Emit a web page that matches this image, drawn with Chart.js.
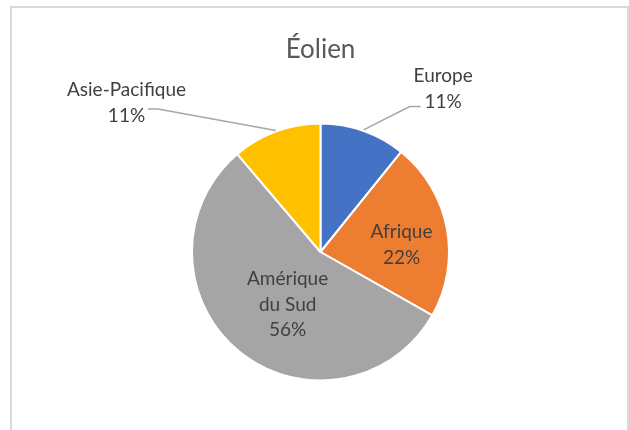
<!DOCTYPE html>
<html lang="fr">
<head>
<meta charset="utf-8">
<title>Éolien</title>
<script src="https://cdn.jsdelivr.net/npm/chart.js@4.4.1/dist/chart.umd.min.js"></script>
<style>
  html, body { margin: 0; padding: 0; background: #fff; }
  #wrap { position: relative; width: 629px; height: 430px; overflow: hidden; }
  #wrap canvas { position: absolute; left: 0; top: 0; }
  #frame {
    position: absolute; left: 10px; top: 6px; width: 619px; height: 440px;
    box-sizing: border-box; border: 2px solid #d9d9d9; pointer-events: none;
  }
</style>
</head>
<body>
<div id="wrap">
  <canvas id="chart-eolien" width="629" height="430"></canvas>
  <div id="frame"></div>
</div>
<script>
// Data (shares per region)
var CATEGORIES  = ['Europe', 'Afrique', 'Amérique du Sud', 'Asie-Pacifique'];
var LABEL_LINES = [['Europe'], ['Afrique'], ['Amérique', 'du Sud'], ['Asie-Pacifique']];
var VALUES      = [10.8, 22.4, 55.6, 11.2];
var TITLE       = 'Éolien';

var COLORS = ['#4472C4', '#ED7D31', '#A5A5A5', '#FFC000'];

// where each data label sits: angle shift (deg) from the slice middle,
// distance as a share of the radius, optional leader line
var LABEL_PLACE = [
  { shift: 17.5,  dist: 1.588, leader: { dx: -22.5, dy: 17.6, elbow: -11 } },
  { shift: 5.9,   dist: 0.633 },
  { shift: -7.7,  dist: 0.484 },
  { shift: -32.3, dist: 1.904, leader: { dx: 21.5, dy: 6.1, elbow: 10 } }
];
var LABEL_FONT = 19;
var LABEL_LINE_H = 25.5;

// ── Data labels + leader lines ─────────
var pieLabels = {
  id: 'pieLabels',
  afterDatasetsDraw: function (chart) {
    var ctx = chart.ctx;
    var arcs = chart.getDatasetMeta(0).data;
    var total = VALUES.reduce(function (a, b) { return a + b; }, 0);

    ctx.save();
    ctx.font = LABEL_FONT + 'px Lato';
    ctx.textAlign = 'center';
    ctx.textBaseline = 'middle';
    ctx.strokeStyle = '#A6A6A6';
    ctx.lineWidth = 1.5;

    arcs.forEach(function (arc, i) {
      var place = LABEL_PLACE[i];
      var mid = (arc.startAngle + arc.endAngle) / 2;
      var a = mid + place.shift * Math.PI / 180;
      var d = arc.outerRadius * place.dist;
      var cx = arc.x + Math.cos(a) * d;
      var cy = arc.y + Math.sin(a) * d;
      var lines = LABEL_LINES[i].concat([Math.round(VALUES[i] / total * 100) + '%']);

      if (place.leader) {
        var r = arc.outerRadius + 1;
        var ex = cx + place.leader.dx, ey = cy + place.leader.dy;
        ctx.beginPath();
        ctx.moveTo(arc.x + Math.cos(mid) * r, arc.y + Math.sin(mid) * r);
        ctx.lineTo(ex + place.leader.elbow, ey);
        ctx.lineTo(ex, ey);
        ctx.stroke();
      }

      ctx.fillStyle = '#404040';
      lines.forEach(function (t, k) {
        ctx.fillText(t, cx, cy + (k - (lines.length - 1) / 2) * LABEL_LINE_H);
      });
    });
    ctx.restore();
  }
};

new Chart(document.getElementById('chart-eolien'), {
  type: 'pie',
  data: {
    labels: CATEGORIES,
    datasets: [{
      data: VALUES,
      backgroundColor: COLORS,
      borderColor: '#ffffff',
      borderWidth: 2,
      radius: 128.5
    }]
  },
  options: {
    responsive: false,
    animation: false,
    layout: { padding: { left: 12, right: 0, top: 0, bottom: 1.6 } },
    plugins: {
      legend: { display: false },
      tooltip: { enabled: false },
      title: {
        display: true,
        text: TITLE,
        color: '#595959',
        font: { family: 'Lato', size: 26, weight: 'normal', lineHeight: 1.2 },
        padding: { top: 34.4, bottom: 10 }
      }
    }
  },
  plugins: [pieLabels]
});
</script>
</body>
</html>
